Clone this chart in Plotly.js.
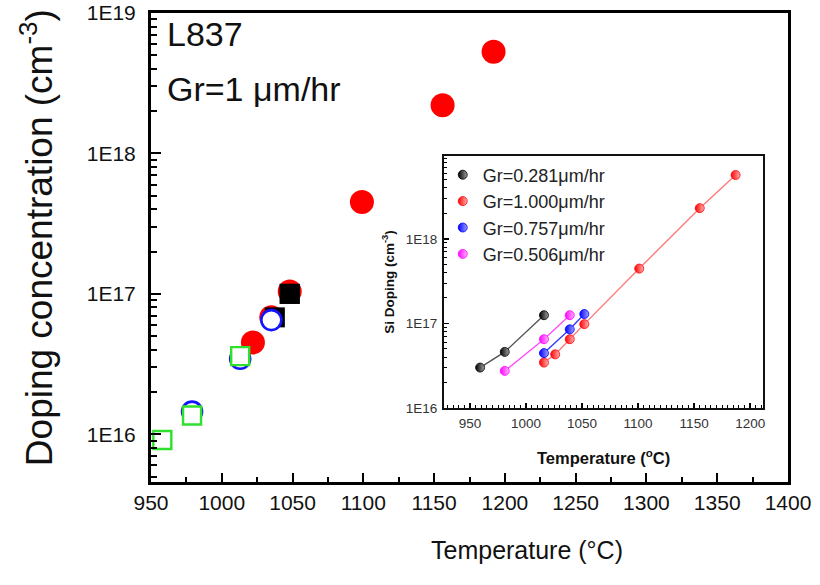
<!DOCTYPE html>
<html>
<head>
<meta charset="utf-8">
<script src="https://cdn.plot.ly/plotly-3.0.1.min.js"></script>
<style>html,body{margin:0;padding:0;background:#fff;}#chart{width:820px;height:585px;}</style>
</head>
<body>
<div id="chart"></div>
<script>
// ---- Main chart data (Temperature °C, doping cm^-3) ----
const mainRedT   = [1022, 1035, 1048, 1099, 1156, 1192];
const mainRedN   = [4.5e16, 6.8e16, 1.04e17, 4.5e17, 2.2e18, 5.3e18];
const mainBlackT = [1037.5, 1048];
const mainBlackN = [6.8e16, 1.0e17];
const mainBlueT  = [979, 1013, 1035];
const mainBlueN  = [1.45e16, 3.45e16, 6.5e16];
const mainGreenT = [958, 979, 1013];
const mainGreenN = [9.1e15, 1.36e16, 3.6e16];

// ---- Inset data ----
const insetBlackT = [959, 981, 1016];
const insetBlackN = [3.0e16, 4.6e16, 1.25e17];
const insetRedT   = [1016, 1026, 1039, 1052, 1101, 1155, 1187];
const insetRedN   = [3.44e16, 4.3e16, 6.5e16, 9.8e16, 4.45e17, 2.31e18, 5.7e18];
const insetBlueT  = [1016, 1039, 1052];
const insetBlueN  = [4.45e16, 8.5e16, 1.29e17];
const insetMagT   = [981, 1016, 1039];
const insetMagN   = [2.74e16, 6.5e16, 1.25e17];

const insetNames = ['Gr=0.281\u03bcm/hr', 'Gr=1.000\u03bcm/hr', 'Gr=0.757\u03bcm/hr', 'Gr=0.506\u03bcm/hr'];

// ---- Tick labels ----
const mainYTickVals = [1e16, 1e17, 1e18, 1e19];
const mainYTickText = ['1E16', '1E17', '1E18', '1E19'];
const insetYTickVals = [1e16, 1e17, 1e18];
const insetYTickText = ['1E16', '1E17', '1E18'];

const FONT = 'Arial, "Liberation Sans", sans-serif';

const traces = [];
// main traces
traces.push({x: mainRedT, y: mainRedN, xaxis:'x', yaxis:'y', mode:'markers', showlegend:false,
  marker:{symbol:'circle', size:24, color:'#ff0000', line:{width:0}}});
traces.push({x: mainBlackT, y: mainBlackN, xaxis:'x', yaxis:'y', mode:'markers', showlegend:false,
  marker:{symbol:'square', size:20, color:'#000000', line:{width:0}}});
traces.push({x: mainBlueT, y: mainBlueN, xaxis:'x', yaxis:'y', mode:'markers', showlegend:false,
  marker:{symbol:'circle', size:20, color:'#ffffff', line:{width:2.6, color:'#1414ff'}}});
traces.push({x: mainGreenT, y: mainGreenN, xaxis:'x', yaxis:'y', mode:'markers', showlegend:false,
  marker:{symbol:'square', size:18, color:'#ffffff', line:{width:2.4, color:'#2fe02f'}}});
// black square at 1048 drawn on top
traces.push({x: mainBlackT.slice(1), y: mainBlackN.slice(1), xaxis:'x', yaxis:'y', mode:'markers', showlegend:false,
  marker:{symbol:'square', size:20, color:'#000000', line:{width:0}}});

// inset traces
const insetSets = [
  {t: insetBlackT, n: insetBlackN, c: '#000000', lc: '#555555', g: '#a0a0a0'},
  {t: insetRedT,   n: insetRedN,   c: '#ff0000', lc: '#ff7a7a', g: '#ffb4b4'},
  {t: insetBlueT,  n: insetBlueN,  c: '#0000ff', lc: '#3a3aff', g: '#a0a0ff'},
  {t: insetMagT,   n: insetMagN,   c: '#ff00ff', lc: '#ff4cff', g: '#ffb4ff'}
];
insetSets.forEach((s) => {
  traces.push({x: s.t, y: s.n, xaxis:'x2', yaxis:'y2', mode:'lines', showlegend:false,
    line:{color:s.lc, width:1.4}, hoverinfo:'skip'});
});
insetSets.forEach((s, i) => {
  traces.push({x: s.t, y: s.n, xaxis:'x2', yaxis:'y2', mode:'markers', name: insetNames[i], showlegend:true,
    marker:{symbol:'circle', size:9, color:s.c, gradient:{type:'horizontal', color:s.g}, line:{width:0.8, color:s.c}}});
});

const layout = {
  width: 820, height: 585,
  paper_bgcolor:'#ffffff', plot_bgcolor:'#ffffff',
  margin:{l:151, r:32, t:13, b:103},
  font:{family: FONT, color:'#222222'},
  xaxis:{
    range:[950, 1400], dtick:50, tick0:950,
    ticks:'inside', ticklen:9, tickwidth:2, tickcolor:'#000',
    minor:{dtick:25, ticks:'inside', ticklen:5, tickwidth:2, tickcolor:'#000'},
    showline:true, linewidth:3, linecolor:'#000', mirror:true,
    showgrid:false, zeroline:false,
    tickfont:{size:21, family:FONT, color:'#111'}, ticklabelstandoff:0
  },
  yaxis:{
    type:'log', range:[15.66, 19.0],
    tickmode:'array', tickvals: mainYTickVals, ticktext: mainYTickText,
    ticks:'inside', ticklen:10, tickwidth:2, tickcolor:'#000',
    minor:{tickmode:'linear', dtick:'D1', ticks:'inside', ticklen:6, tickwidth:2, tickcolor:'#000'},
    showline:true, linewidth:3, linecolor:'#000', mirror:true,
    showgrid:false, zeroline:false,
    tickfont:{size:21, family:FONT, color:'#111'}, ticklabelstandoff:8
  },
  xaxis2:{
    domain:[0.46, 0.961], anchor:'y2',
    range:[926.8, 1211.6], dtick:50, tick0:950,
    ticks:'inside', ticklen:5, tickwidth:1.5, tickcolor:'#000',
    minor:{dtick:5, ticks:'inside', ticklen:2.5, tickwidth:1, tickcolor:'#000'},
    showline:true, linewidth:2, linecolor:'#111', mirror:true,
    showgrid:false, zeroline:false,
    tickfont:{size:13.5, family:FONT, color:'#333'}, ticklabelstandoff:2,
    title:{text:'Temperature (<sup>o</sup>C)', font:{size:16.5, family:FONT, color:'#111', weight:'bold'}, standoff:22}
  },
  yaxis2:{
    domain:[0.158, 0.695], anchor:'x2',
    type:'log', range:[16, 18.98],
    tickmode:'array', tickvals: insetYTickVals, ticktext: insetYTickText,
    ticks:'inside', ticklen:5, tickwidth:1.5, tickcolor:'#000',
    minor:{tickmode:'linear', dtick:'D1', ticks:'inside', ticklen:2.5, tickwidth:1, tickcolor:'#000'},
    showline:true, linewidth:2, linecolor:'#111', mirror:true,
    showgrid:false, zeroline:false,
    tickfont:{size:13.5, family:FONT, color:'#333'}, ticklabelstandoff:2,
    title:{text:'Si Doping (cm<sup>-3</sup>)', font:{size:13.5, family:FONT, color:'#111', weight:'bold'}, standoff:8}
  },
  legend:{
    x:0.458, y:0.694, xanchor:'left', yanchor:'top',
    bgcolor:'rgba(0,0,0,0)', borderwidth:0,
    font:{size:18, family:FONT, color:'#222'},
    tracegroupgap:0, itemwidth:30
  },
  annotations:[
    {xref:'paper', yref:'paper', x:-0.179, y:0.522, xanchor:'center', yanchor:'middle', showarrow:false,
     textangle:-90, text:'Doping concentration (cm<sup>-3</sup>)', font:{size:37, family:FONT, color:'#111'}},
    {xref:'paper', yref:'paper', x:0.59, y:-0.145, xanchor:'center', yanchor:'middle', showarrow:false,
     text:'Temperature (\u00b0C)', font:{size:25, family:FONT, color:'#111'}},
    {xref:'paper', yref:'paper', x:0.022, y:1.0, xanchor:'left', yanchor:'top', showarrow:false,
     text:'L837', font:{size:34, family:FONT, color:'#111'}},
    {xref:'paper', yref:'paper', x:0.022, y:0.882, xanchor:'left', yanchor:'top', showarrow:false,
     text:'Gr=1 \u03bcm/hr', font:{size:34, family:FONT, color:'#111'}}
  ],
  showlegend:true
};

Plotly.newPlot('chart', traces, layout, {displayModeBar:false, staticPlot:true});
</script>
</body>
</html>
